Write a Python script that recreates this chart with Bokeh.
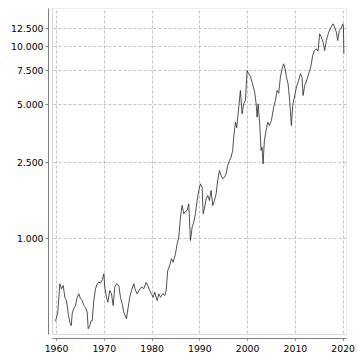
from bokeh.plotting import figure
from bokeh.models import Range1d, FixedTicker, BoxAnnotation
from bokeh.embed import file_html
from bokeh.resources import INLINE

year = [1959.79, 1960.27, 1960.69, 1961.05, 1961.40, 1961.74, 1962.09, 1962.45, 1962.78, 1963.08,
        1963.28, 1963.62, 1963.97, 1964.33, 1964.67, 1965.02, 1965.38, 1965.71, 1966.07, 1966.42,
        1966.63, 1966.97, 1967.26, 1967.47, 1967.80, 1968.16, 1968.51, 1968.85, 1969.21, 1969.56,
        1969.90, 1970.10, 1970.46, 1970.73, 1971.15, 1971.51, 1971.86, 1972.20, 1972.55, 1973.03,
        1973.39, 1973.74, 1974.08, 1974.64, 1975.00, 1975.33, 1975.69, 1976.17, 1976.53, 1976.88,
        1977.43, 1977.93, 1978.26, 1978.77, 1979.10, 1979.52, 1979.87, 1980.23, 1980.56, 1981.07,
        1981.40, 1981.76, 1982.24, 1982.66, 1982.95, 1983.28, 1983.70, 1984.06, 1984.41, 1984.90,
        1985.25, 1985.59, 1985.94, 1986.30, 1986.63, 1986.99, 1987.34, 1987.68, 1988.03, 1988.39,
        1988.72, 1989.08, 1989.44, 1989.77, 1990.13, 1990.48, 1990.69, 1990.96, 1991.32, 1991.65,
        1992.01, 1992.36, 1992.70, 1993.05, 1993.41, 1993.74, 1994.10, 1994.46, 1994.79, 1995.15,
        1995.50, 1995.84, 1996.19, 1996.55, 1996.88, 1997.09, 1997.45, 1997.72, 1998.01, 1998.49,
        1998.85, 1999.18, 1999.54, 1999.90, 2000.23, 2000.59, 2000.94, 2001.21, 2001.49, 2001.78,
        2001.99, 2002.20, 2002.53, 2002.82, 2003.03, 2003.24, 2003.51, 2003.87, 2004.21, 2004.56,
        2004.98, 2005.46, 2005.82, 2006.17, 2006.51, 2006.86, 2007.22, 2007.55, 2007.85, 2008.12,
        2008.47, 2008.74, 2008.95, 2009.16, 2009.44, 2009.79, 2010.21, 2010.69, 2011.05, 2011.40,
        2011.61, 2011.95, 2012.24, 2012.57, 2012.99, 2013.28, 2013.62, 2013.97, 2014.39, 2014.75,
        2015.08, 2015.44, 2015.79, 2016.13, 2016.49, 2016.97, 2017.47, 2017.89, 2018.22, 2018.58,
        2018.85, 2019.21, 2019.56, 2019.90, 2020.05, 2020.15]

dax = [372, 415, 583, 549, 571, 496, 477, 408, 367, 353,
       408, 434, 449, 496, 517, 487, 477, 449, 440, 415,
       340, 353, 375, 375, 477, 549, 583, 594, 588, 612,
       657, 560, 496, 468, 538, 517, 449, 560, 583, 571,
       496, 459, 415, 383, 440, 496, 538, 583, 538, 517,
       549, 560, 549, 594, 571, 538, 517, 496, 527, 477,
       517, 496, 517, 507, 538, 684, 726, 787, 755, 835,
       942, 1019, 1296, 1491, 1350, 1390, 1404, 1521, 980, 1150,
       1220, 1350, 1583, 1785, 1934, 1857, 1350, 1433, 1615, 1681,
       1583, 1785, 1491, 1583, 1716, 2012, 2268, 2137, 2053, 2094,
       2181, 2409, 2557, 2661, 2884, 3383, 4050, 3790, 4477, 5922,
       4477, 5048, 5253, 7526, 7235, 7000, 6540, 6161, 5801, 5048,
       4300, 5048, 3972, 2884, 3000, 2458, 3251, 3664, 4050, 3892,
       4133, 4847, 5253, 5922, 5730, 6946, 7681, 8156, 7681, 6946,
       6416, 5466, 4658, 3892, 4947, 5466, 6161, 6675, 7235, 6946,
       5577, 6286, 6540, 6946, 7526, 7992, 9010, 9566, 9763, 9500,
       11688, 11230, 10568, 9566, 10784, 11913, 12650, 13176, 12650, 11913,
       10784, 12160, 12410, 13176, 12900, 9195]

x_ticks = [1960, 1970, 1980, 1990, 2000, 2010, 2020]
y_ticks = [1000, 2500, 5000, 7500, 10000, 12500]
y_tick_labels = ["1.000", "2.500", "5.000", "7.500", "10.000", "12.500"]

# view extents (outer frame incl. spine offset, inner box)
X0, X_IN, X1 = 1958.32, 1959.16, 2020.7
Y0, Y_IN, Y1 = 302.5, 317.4, 15830

GREY = "#7f7f7f"

p = figure(width=358, height=358, x_range=Range1d(X0, X1), y_range=Range1d(Y0, Y1),
           y_axis_type="log", output_backend="svg", toolbar_location=None,
           min_border_left=48, min_border_right=12, min_border_top=8, min_border_bottom=20)
p.outline_line_color = None
p.background_fill_color = "white"
p.border_fill_color = "white"

xt = FixedTicker(ticks=x_ticks)
yt = FixedTicker(ticks=y_ticks)
p.xaxis.ticker = xt
p.yaxis.ticker = yt
p.xgrid.ticker = xt
p.ygrid.ticker = yt
p.yaxis.major_label_overrides = dict(zip(y_ticks, y_tick_labels))

for ax in (p.xaxis[0], p.yaxis[0]):
    ax.axis_line_color = GREY
    ax.axis_line_width = 1
    ax.major_tick_line_color = GREY
    ax.minor_tick_line_color = None
    ax.major_tick_in = 0
    ax.major_label_text_font = "DejaVu Sans"
    ax.major_label_text_font_size = "9.3px"
    ax.major_label_text_color = "#000000"

p.yaxis.major_tick_out = 3
p.xaxis.major_tick_out = 2
p.yaxis.major_label_standoff = 2
p.xaxis.major_label_standoff = 4
p.xaxis.bounds = (X_IN, X1)
p.yaxis.bounds = (Y_IN, Y1)

p.grid.grid_line_color = "#c4c4c4"
p.grid.grid_line_dash = "3 2"
p.grid.grid_line_width = 1
p.grid.level = "image"

m1 = BoxAnnotation(right=X_IN, fill_color="white", fill_alpha=1, line_color=None, level="underlay")
m2 = BoxAnnotation(top=Y_IN, fill_color="white", fill_alpha=1, line_color=None, level="underlay")
inner = BoxAnnotation(left=X_IN, bottom=Y_IN, fill_color=None, fill_alpha=0,
                      line_color=GREY, line_width=1, level="underlay")
p.add_layout(m1)
p.add_layout(m2)
p.add_layout(inner)

p.line(year, dax, line_color="#262626", line_width=0.8)

open("out.html", "w").write(file_html(p, INLINE))
